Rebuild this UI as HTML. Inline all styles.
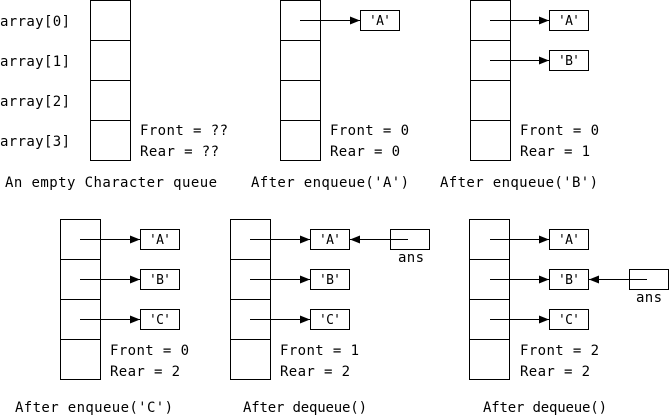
<!DOCTYPE html>
<html><head><meta charset="utf-8"><style>
html,body{margin:0;padding:0;background:#fff;}
svg{display:block;}
text{font-family:"DejaVu Sans Mono","Liberation Mono",monospace;font-size:14px;fill:#000;}
.b{font-size:13px;}
</style></head><body>
<svg width="671" height="419" viewBox="0 0 671 419" xmlns="http://www.w3.org/2000/svg">
<defs>
<marker id="ah" markerWidth="10" markerHeight="8" refX="10" refY="4" orient="auto" markerUnits="userSpaceOnUse">
<path d="M0,0 L10,4 L0,8 Z" fill="#000"/></marker>
</defs>
<g fill="none" stroke="#000" stroke-width="1">
<!-- panel 1 -->
<rect x="90.5" y="0.5" width="40" height="160"/>
<path d="M90 40.5H130M90 80.5H130M90 120.5H130"/>
<!-- panel 2 -->
<rect x="280.5" y="0.5" width="40" height="160"/>
<path d="M280 40.5H320M280 80.5H320M280 120.5H320"/>
<rect x="360.5" y="10.5" width="39" height="20"/>
<path d="M300 20.5H360" marker-end="url(#ah)"/>
<!-- panel 3 -->
<rect x="470.5" y="0.5" width="40" height="160"/>
<path d="M470 40.5H510M470 80.5H510M470 120.5H510"/>
<rect x="549.5" y="10.5" width="39" height="20"/>
<rect x="549.5" y="50.5" width="39" height="20"/>
<path d="M490 20.5H549" marker-end="url(#ah)"/>
<path d="M490 60.5H549" marker-end="url(#ah)"/>
<!-- panel 4 -->
<rect x="60.5" y="219.5" width="40" height="160"/>
<path d="M60 259.5H100M60 299.5H100M60 339.5H100"/>
<rect x="140.5" y="229.5" width="39" height="20"/>
<rect x="140.5" y="269.5" width="39" height="20"/>
<rect x="140.5" y="309.5" width="39" height="20"/>
<path d="M80 239.5H140" marker-end="url(#ah)"/>
<path d="M80 279.5H140" marker-end="url(#ah)"/>
<path d="M80 319.5H140" marker-end="url(#ah)"/>
<!-- panel 5 -->
<rect x="230.5" y="219.5" width="40" height="160"/>
<path d="M230 259.5H270M230 299.5H270M230 339.5H270"/>
<rect x="310.5" y="229.5" width="39" height="20"/>
<rect x="310.5" y="269.5" width="39" height="20"/>
<rect x="310.5" y="309.5" width="39" height="20"/>
<path d="M250 239.5H310" marker-end="url(#ah)"/>
<path d="M250 279.5H310" marker-end="url(#ah)"/>
<path d="M250 319.5H310" marker-end="url(#ah)"/>
<rect x="390.5" y="229.5" width="39" height="20"/>
<path d="M408 239.5H350" marker-end="url(#ah)"/>
<!-- panel 6 -->
<rect x="469.5" y="219.5" width="40" height="160"/>
<path d="M469 259.5H509M469 299.5H509M469 339.5H509"/>
<rect x="549.5" y="229.5" width="39" height="20"/>
<rect x="549.5" y="269.5" width="39" height="20"/>
<rect x="549.5" y="309.5" width="39" height="20"/>
<path d="M490 239.5H549" marker-end="url(#ah)"/>
<path d="M490 279.5H549" marker-end="url(#ah)"/>
<path d="M490 319.5H549" marker-end="url(#ah)"/>
<rect x="629.5" y="269.5" width="39" height="20"/>
<path d="M647 279.5H589" marker-end="url(#ah)"/>
</g>
<!-- texts -->
<text x="0" y="26" textLength="70">array[0]</text>
<text x="0" y="66" textLength="70">array[1]</text>
<text x="0" y="106" textLength="70">array[2]</text>
<text x="0" y="146" textLength="70">array[3]</text>
<text x="140" y="135" textLength="88">Front = ??</text>
<text x="140" y="156" textLength="79">Rear = ??</text>
<text x="5" y="187" textLength="212">An empty Character queue</text>

<text class="b" x="369" y="25" textLength="22">'A'</text>
<text x="330" y="135" textLength="79">Front = 0</text>
<text x="330" y="156" textLength="70">Rear = 0</text>
<text x="251" y="187" textLength="158">After enqueue('A')</text>

<text class="b" x="558" y="25" textLength="22">'A'</text>
<text class="b" x="558" y="65" textLength="22">'B'</text>
<text x="520" y="135" textLength="79">Front = 0</text>
<text x="520" y="156" textLength="70">Rear = 1</text>
<text x="440" y="187" textLength="158">After enqueue('B')</text>

<text class="b" x="149" y="244" textLength="22">'A'</text>
<text class="b" x="149" y="284" textLength="22">'B'</text>
<text class="b" x="149" y="324" textLength="22">'C'</text>
<text x="110" y="355" textLength="79">Front = 0</text>
<text x="110" y="376" textLength="70">Rear = 2</text>
<text x="15" y="412" textLength="158">After enqueue('C')</text>

<text class="b" x="319" y="244" textLength="22">'A'</text>
<text class="b" x="319" y="284" textLength="22">'B'</text>
<text class="b" x="319" y="324" textLength="22">'C'</text>
<text x="398" y="262" textLength="26">ans</text>
<text x="280" y="355" textLength="79">Front = 1</text>
<text x="280" y="376" textLength="70">Rear = 2</text>
<text x="243" y="412" textLength="124">After dequeue()</text>

<text class="b" x="558" y="244" textLength="22">'A'</text>
<text class="b" x="558" y="284" textLength="22">'B'</text>
<text class="b" x="558" y="324" textLength="22">'C'</text>
<text x="636" y="302" textLength="26">ans</text>
<text x="520" y="355" textLength="79">Front = 2</text>
<text x="520" y="376" textLength="70">Rear = 2</text>
<text x="483" y="412" textLength="124">After dequeue()</text>
</svg>
</body></html>
